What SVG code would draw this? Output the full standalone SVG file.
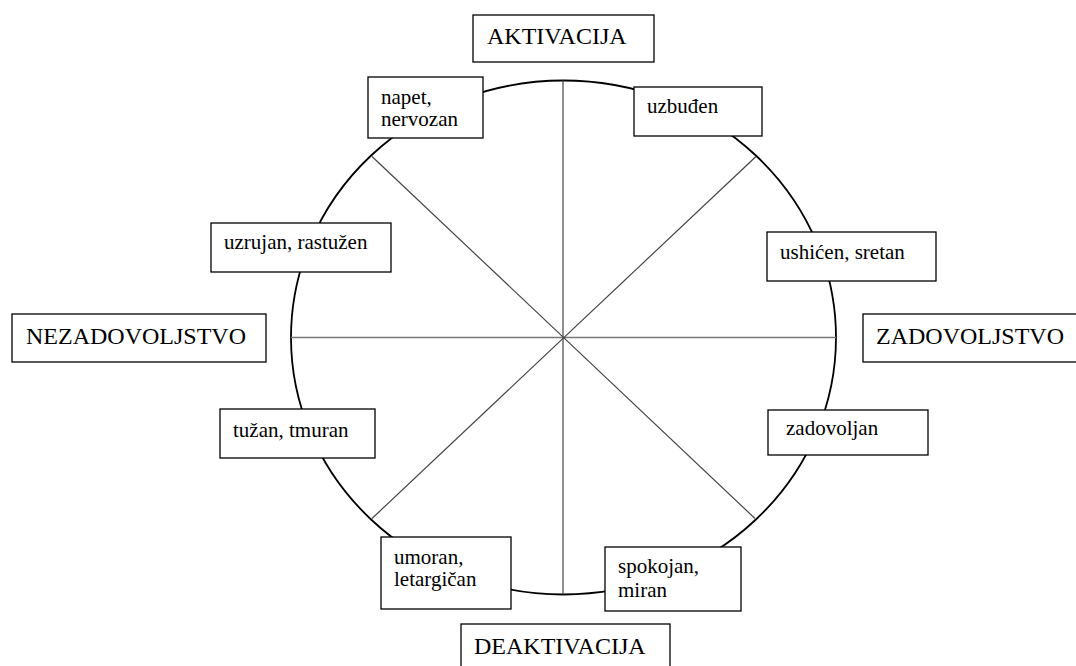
<svg xmlns="http://www.w3.org/2000/svg" width="1076" height="666" viewBox="0 0 1076 666">
<style>
.box{fill:#fff;stroke:#000;stroke-width:1.3}
.t{font-size:21px;fill:#000}
.big{font-size:24px;fill:#000}
.ax{stroke:#444;stroke-width:1.2;fill:none}
</style>
<rect width="1076" height="666" fill="#fff"/>
<g id="connectors">
<ellipse cx="563.5" cy="337.5" rx="272.5" ry="257" fill="none" stroke="#000" stroke-width="1.8"/>
<line class="ax" x1="563" y1="80.5" x2="563" y2="594.5" stroke="#222"/>
<line x1="291" y1="337.5" x2="836" y2="337.5" stroke="#777" stroke-width="1.6"/>
<line class="ax" x1="372" y1="156.5" x2="755" y2="518.5"/>
<line class="ax" x1="756" y1="156.5" x2="372" y2="518.5"/>
</g>
<g font-family="'Liberation Serif', 'DejaVu Serif', serif">
<g id="aktivacija"><rect class="box" x="473" y="15" width="181" height="47"/><text class="big" x="487" y="44">AKTIVACIJA</text></g>
<g id="deaktivacija"><rect class="box" x="461" y="624" width="209" height="50"/><text class="big" x="474" y="654">DEAKTIVACIJA</text></g>
<g id="nezadovoljstvo"><rect class="box" x="12" y="314" width="254" height="48"/><text class="big" x="26" y="344">NEZADOVOLJSTVO</text></g>
<g id="zadovoljstvo"><rect class="box" x="863" y="314" width="220" height="48"/><text class="big" x="876" y="344">ZADOVOLJSTVO</text></g>
<g id="napet"><rect class="box" x="368" y="77" width="115" height="61"/><text class="t" x="381" y="104">napet,</text><text class="t" x="381" y="126">nervozan</text></g>
<g id="uzbuden"><rect class="box" x="634" y="87" width="128" height="49"/><text class="t" x="647" y="113">uzbuđen</text></g>
<g id="uzrujan"><rect class="box" x="211" y="223" width="180" height="49"/><text class="t" x="224" y="249">uzrujan, rastužen</text></g>
<g id="ushicen"><rect class="box" x="767" y="232" width="169" height="49"/><text class="t" x="780" y="259">ushićen, sretan</text></g>
<g id="tuzan"><rect class="box" x="220" y="409" width="155" height="49"/><text class="t" x="233" y="437">tužan, tmuran</text></g>
<g id="zadovoljan"><rect class="box" x="768" y="410" width="160" height="45"/><text class="t" x="786" y="435">zadovoljan</text></g>
<g id="umoran"><rect class="box" x="381" y="537" width="130" height="72"/><text class="t" x="394" y="564">umoran,</text><text class="t" x="394" y="586">letargičan</text></g>
<g id="spokojan"><rect class="box" x="605" y="547" width="136" height="64"/><text class="t" x="618" y="573">spokojan,</text><text class="t" x="618" y="597">miran</text></g>
</g>
</svg>
